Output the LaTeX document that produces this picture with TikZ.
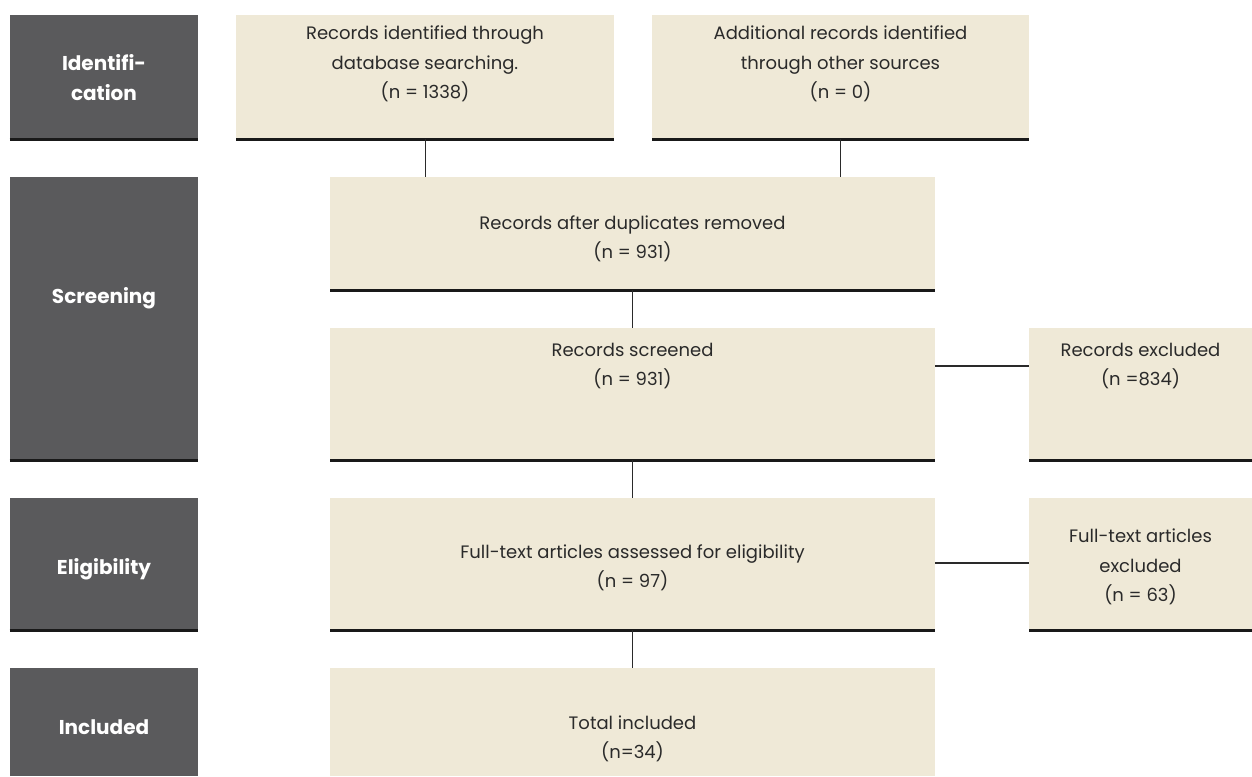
\documentclass[tikz,border=0pt]{standalone}
\usepackage{fontspec}
\setmainfont{Poppins}
\usetikzlibrary{calc}
\definecolor{beige}{HTML}{EFE9D7}
\definecolor{darkbox}{HTML}{5A5A5C}
\definecolor{txt}{HTML}{2A2A2A}
\tikzset{
  pbox/.style={fill=beige, draw=none, inner sep=0pt, anchor=north west},
  sbox/.style={fill=darkbox, draw=none, inner sep=0pt, anchor=north west},
  btxt/.style={text=txt, font=\fontsize{18}{29.5}\selectfont, align=center, inner sep=0pt},
  stxt/.style={text=white, font=\fontsize{20}{30}\selectfont\bfseries, align=center, inner sep=0pt},
  baseline/.style={line width=2.6pt, black!90},
  conn/.style={line width=1.3pt, txt}
}
\newcommand{\mkbox}[6]{% name, style, x1, y1, x2, y2
  \node[#2, minimum width=#5pt-#3pt, minimum height=#6pt-#4pt] (#1) at (#3,#4) {};
  \draw[baseline] (#1.south west) -- (#1.south east);
}
\begin{document}
\begin{tikzpicture}[x=1pt,y=-1pt]
\useasboundingbox (0,0) rectangle (1252,776);
% side labels
\mkbox{sid}{sbox}{9.5}{15}{198}{139}
\mkbox{sscr}{sbox}{9.5}{177}{198}{460}
\mkbox{seli}{sbox}{9.5}{498}{198}{630}
\node[sbox, minimum width=188.5pt, minimum height=108pt] (sinc) at (9.5,668) {};
\node[stxt] (tid) at (104,78) {Identifi-\\cation};
\node[stxt] (tscr) at (104,298) {Screening};
\node[stxt] (teli) at (104,569) {Eligibility};
\node[stxt] (tinc) at (104,727) {Included};
% flow boxes
\mkbox{b1}{pbox}{236}{15}{614}{139}
\mkbox{b2}{pbox}{652}{15}{1029}{139}
\mkbox{dup}{pbox}{330}{177}{935}{290}
\mkbox{scr}{pbox}{330}{328}{935}{460}
\mkbox{exc}{pbox}{1029}{328}{1252}{460}
\mkbox{ful}{pbox}{330}{498}{935}{630}
\mkbox{fex}{pbox}{1029}{498}{1252}{630}
\node[pbox, minimum width=605pt, minimum height=108pt] (tot) at (330,668) {};
% texts
\node[btxt] (t1) at (425,64) {Records identified through\\database searching.\\(n = 1338)};
\node[btxt] (t2) at (840.5,64) {Additional records identified\\through other sources\\(n = 0)};
\node[btxt] (t3) at (632.5,239) {Records after duplicates removed\\(n = 931)};
\node[btxt] (t4) at (632.5,366) {Records screened\\(n = 931)};
\node[btxt] (t5) at (1140.5,366) {Records excluded\\(n =834)};
\node[btxt] (t6) at (632.5,568) {Full-text articles assessed for eligibility\\(n = 97)};
\node[btxt] (t7) at (1140.5,567) {Full-text articles\\excluded\\(n = 63)};
\node[btxt] (t8) at (632.5,739) {Total included\\(n=34)};
% connectors
\draw[conn] (b1.south) -- (b1.south |- dup.north);
\draw[conn] (b2.south) -- (b2.south |- dup.north);
\draw[conn] (dup.south) -- (scr.north);
\draw[conn] (scr.south) -- (ful.north);
\draw[conn] (ful.south) -- (tot.north);
\coordinate (c1) at (935,366);
\coordinate (c2) at (935,563);
\draw[conn] (c1) -- (c1 -| exc.west);
\draw[conn] (c2) -- (c2 -| fex.west);
\end{tikzpicture}
\end{document}
